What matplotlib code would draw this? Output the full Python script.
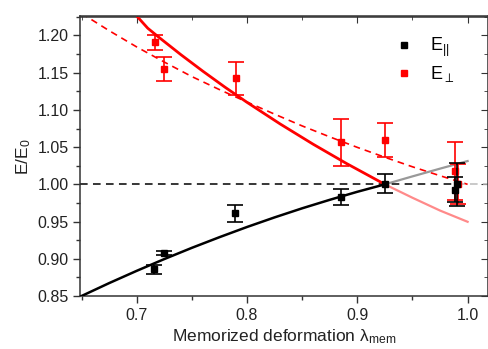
import matplotlib
matplotlib.use("Agg")
import matplotlib.pyplot as plt
from matplotlib.ticker import MultipleLocator, FixedLocator
from matplotlib.lines import Line2D

plt.rcParams['font.family'] = ['Liberation Sans', 'DejaVu Sans']
plt.rcParams['mathtext.fontset'] = 'custom'
plt.rcParams['mathtext.rm'] = 'Liberation Sans'
plt.rcParams['mathtext.it'] = 'Liberation Sans:italic'

# --- data: E_parallel (black) ---
par_x = [0.7157, 0.7248, 0.7894, 0.8852, 0.9251, 0.9885, 0.9905]
par_y = [0.8857, 0.9077, 0.9610, 0.9833, 1.0010, 0.9930, 1.0000]
par_err = [0.0058, 0.0023, 0.0112, 0.0108, 0.0125, 0.0170, 0.0290]

# --- data: E_perp (red) ---
perp_x = [0.7169, 0.7250, 0.7897, 0.8855, 0.9251, 0.9890, 0.9915]
perp_y = [1.1909, 1.1546, 1.1425, 1.0565, 1.0591, 1.0183, 1.0010]
perp_err = [0.0103, 0.0160, 0.0224, 0.0316, 0.0228, 0.0390, 0.0270]

# --- model curves ---
fit_par_x = [0.65, 0.675, 0.70, 0.725, 0.75, 0.775, 0.80, 0.825, 0.85, 0.875, 0.90, 0.925]
fit_par_y = [0.850, 0.8673, 0.8838, 0.8996, 0.9147, 0.9290, 0.9427, 0.9556, 0.9678, 0.9792, 0.9900, 1.000]
ext_par_x = [0.925, 0.95, 0.975, 1.00]
ext_par_y = [1.000, 1.0107, 1.0211, 1.0313]

fit_perp_x = [0.70, 0.71, 0.72, 0.74, 0.76, 0.78, 0.80, 0.83, 0.86, 0.89, 0.925]
fit_perp_y = [1.2262, 1.2098, 1.1977, 1.1743, 1.1520, 1.1306, 1.1102, 1.0812, 1.0539, 1.0282, 1.000]
ext_perp_x = [0.925, 0.95, 0.975, 1.00]
ext_perp_y = [1.000, 0.9820, 0.9648, 0.9497]

dash_perp_x = [0.65, 0.675, 0.70, 0.725, 0.75, 0.775, 0.80, 0.825, 0.85, 0.875, 0.90, 0.925, 0.95, 0.975, 1.00]
dash_perp_y = [1.2297, 1.2065, 1.1846, 1.1643, 1.1448, 1.1273, 1.1106, 1.0943, 1.0785, 1.0638,
               1.0497, 1.0364, 1.0236, 1.0116, 1.000]

ref_x = [0.6486, 0.990]
ref_y = [1.0, 1.0]
ref2_x = [0.990, 1.0185]

fig = plt.figure(figsize=(4.88, 3.49), dpi=100)
ax = fig.add_axes([80/488, 1-296/349, 408/488, (296-16.5)/349])

RED = '#ff0000'
ax.plot(dash_perp_x, dash_perp_y, color=RED, lw=1.2, ls=(0, (4, 3)), zorder=2)
ax.plot(fit_perp_x, fit_perp_y, color=RED, lw=2.0, zorder=3)
ax.plot(ext_perp_x, ext_perp_y, color='#ff8a8a', lw=1.6, zorder=2)
ax.plot(fit_par_x, fit_par_y, color='black', lw=1.8, zorder=3)
ax.plot(ext_par_x, ext_par_y, color='#999999', lw=1.6, zorder=2)
ax.plot(ref_x, ref_y, color='black', lw=1.1, ls=(0, (5, 3.5)), zorder=2)
ax.plot(ref2_x, ref_y, color='#bbbbbb', lw=1.1, ls=(0, (5, 3.5)), zorder=2)

ax.errorbar(perp_x, perp_y, yerr=perp_err, fmt='s', color=RED, ms=4.2,
            elinewidth=1.2, capsize=6, capthick=1.2, zorder=4)
ax.errorbar(par_x, par_y, yerr=par_err, fmt='s', color='black', ms=4.2,
            elinewidth=1.2, capsize=5.5, capthick=1.2, zorder=5)

ax.set_xlim(0.6486, 1.0185)
ax.set_ylim(0.85, 1.2255)

ax.xaxis.set_major_locator(FixedLocator([0.7, 0.8, 0.9, 1.0]))
ax.xaxis.set_minor_locator(FixedLocator([0.65, 0.75, 0.85, 0.95]))
ax.yaxis.set_major_locator(MultipleLocator(0.05))
ax.yaxis.set_minor_locator(MultipleLocator(0.025))
ax.set_xticklabels(['0.7', '0.8', '0.9', '1.0'])
ax.yaxis.set_major_formatter(matplotlib.ticker.FormatStrFormatter('%.2f'))

ax.tick_params(which='major', direction='out', length=5, width=1, labelsize=11.5, color='#333333', labelcolor='#222222')
ax.tick_params(which='minor', direction='out', length=3, width=1, color='#333333')
ax.tick_params(axis='x', pad=4)
ax.tick_params(axis='y', pad=3)

for s in ax.spines.values():
    s.set_linewidth(1.1)
    s.set_color('#333333')

secx = ax.secondary_xaxis('top')
secx.xaxis.set_major_locator(FixedLocator([0.7, 0.8, 0.9, 1.0]))
secx.xaxis.set_minor_locator(FixedLocator([0.65, 0.75, 0.85, 0.95]))
secx.tick_params(which='both', direction='in', labeltop=False, color='#333333')
secx.tick_params(which='major', length=5)
secx.tick_params(which='minor', length=3)
secx.spines['top'].set_linewidth(1.1)
secx.spines['top'].set_color('#333333')

secy = ax.secondary_yaxis('right')
secy.yaxis.set_major_locator(MultipleLocator(0.05))
secy.yaxis.set_minor_locator(MultipleLocator(0.025))
secy.tick_params(which='both', direction='in', labelright=False, color='#333333')
secy.tick_params(which='major', length=5)
secy.tick_params(which='minor', length=3)

ax.set_xlabel('Memorized deformation λ$_{\\mathregular{mem}}$', fontsize=12.5, color='#222222', labelpad=3)
ax.set_ylabel(r'E/E$_{\mathregular{0}}$', fontsize=12.5, color='#222222', labelpad=3)

handles = [Line2D([], [], ls='none', marker='s', color='black', ms=4.2),
           Line2D([], [], ls='none', marker='s', color=RED, ms=4.2)]
ax.legend(handles, [r'E$_{||}$', r'E$_{\perp}$'], loc='upper left',
          bbox_to_anchor=(0.755, 0.955), frameon=False, fontsize=13,
          handlelength=1.0, handletextpad=0.9, labelspacing=0.25, borderaxespad=0)

fig.savefig('out.png', dpi=100)
